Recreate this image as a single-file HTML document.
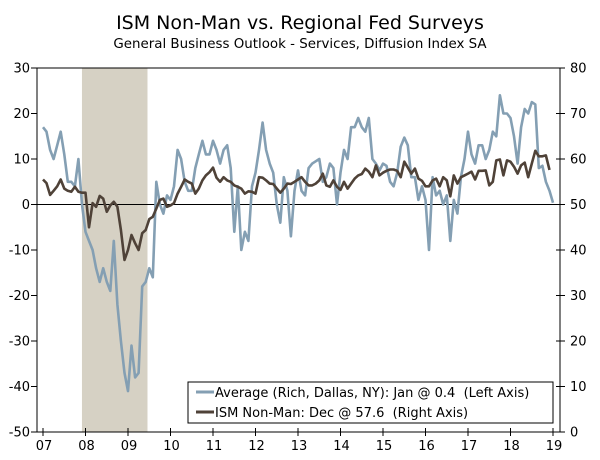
<!DOCTYPE html>
<html><head><meta charset="utf-8"><style>
body{margin:0;background:#fff;}
svg{display:block;font-family:"DejaVu Sans","Liberation Sans",sans-serif;}
</style></head><body>
<svg id="chart" width="600" height="460">
<text x="300" y="29" text-anchor="middle" font-size="19" fill="#000">ISM Non-Man vs. Regional Fed Surveys</text>
<text x="300" y="48" text-anchor="middle" font-size="13.4" fill="#000">General Business Outlook - Services, Diffusion Index SA</text>
<g id="plot"></g>
</svg>
<script>
const yearLabels=["07","08","09","10","11","12","13","14","15","16","17","18","19"];
const leftTicks=[30,20,10,0,-10,-20,-30,-40,-50];
const rightTicks=[80,70,60,50,40,30,20,10,0];
const recession=[11,29.5];
const avgValues=[17,16,12,10,13,16,11,5,5,4,10,0,
-6,-8,-10,-14,-17,-14,-17,-19,-8,-22,-30,-37,
-41,-31,-38,-37,-18,-17,-14,-16,5,0,-2,2,
1,4,12,10,5,3,3,8,11,14,11,11,
14,12,9,12,13,8,-6,4,-10,-6,-8,4,
7,12,18,12,9,7,0,-4,6,3,-7,3,
7.5,3,2,8,9,9.5,10,5,6,9,8,0,
7,12,10,17,17,19,17,16,19,10,9,7.5,
9,8.5,5,4,7,12.7,14.7,13,6,6,1,4,
1,-10,6,2,3,0,2,-8,1,-2,6,10,
16,11,9,13,13,10,12,16,15,24,20,20,
19,15,9,17,21,20,22.5,22,8,8.5,5,3,
0.4];
const ismValues=[55.5,54.7,52.1,53,54,55.5,53.5,53,52.8,53.9,52.8,52.6,
52.6,45,50.3,49.5,51.9,51.3,48.4,49.8,50.6,49.5,44.4,37.8,
40,43.3,41.5,40,43.7,44.4,46.8,47.3,49.1,51,51.3,49.5,
49.8,50.3,52.4,53.9,55.5,55,54.6,52.4,53.5,55.3,56.4,57.1,
58.1,55.9,55,56,55.3,55,54.2,53.9,53.5,52.4,52.9,52.8,
52.4,56,55.9,55.3,54.6,54.5,53.5,52.6,53.5,54.6,54.5,55,
55.5,56,55,54.2,54.2,54.6,55.3,56.8,54.2,53.9,55.3,53.9,
53.2,55,53.5,54.6,55.7,56.4,56.7,57.9,57.2,56,58.6,56.4,
57,57.4,57.7,57.7,57.4,56,59.4,58.1,56.8,57.9,55.7,55.2,
54,54,55.3,55.7,54,56,55.3,51.8,56.4,54.6,56,56.4,
56.8,57.2,55.5,57.4,57.4,57.5,54.2,55,59.7,59.9,56.4,59.7,
59.4,58.3,56.8,58.6,59.2,56,59,61.8,60.6,60.6,60.8,57.6];

const NS="http://www.w3.org/2000/svg";
const g=document.getElementById('plot');
const L=37,R=560,T=68,B=432;
function xm(m){return 43+m*42.5/12;}
function yl(v){return T+(30-v)*(B-T)/80;}
function yr(v){return T+(80-v)*(B-T)/80;}
function mk(tag,attrs,parent){const e=document.createElementNS(NS,tag);for(const k in attrs)e.setAttribute(k,attrs[k]);(parent||g).appendChild(e);return e;}

const sh=mk('rect',{x:xm(recession[0]),y:T,width:xm(recession[1])-xm(recession[0]),height:B-T,fill:'#d6d1c4'});



const frame=mk('rect',{x:L,y:T,width:R-L,height:B-T,fill:'none',stroke:'#000','stroke-width':1});



const zero=mk('line',{x1:L,x2:R,y1:yl(0),y2:yl(0),stroke:'#000','stroke-width':1});



leftTicks.forEach(v=>{
  const y=yl(v);
  mk('line',{x1:L-6,x2:L,y1:y,y2:y,stroke:'#000'});
  const t=mk('text',{x:L-7,y:y+4.5,'text-anchor':'end','font-size':13,fill:'#000'});
  t.textContent=v;
  
  
});
rightTicks.forEach(v=>{
  const y=yr(v);
  mk('line',{x1:R-4,x2:R+5,y1:y,y2:y,stroke:'#000'});
  const t=mk('text',{x:R+10,y:y+4.5,'text-anchor':'start','font-size':13,fill:'#000'});
  t.textContent=v;
  
  
});
yearLabels.forEach((lab,i)=>{
  const x=xm(i*12);
  mk('line',{x1:x,x2:x,y1:B-4,y2:B+4,stroke:'#000'});
  const t=mk('text',{x:x+1,y:B+18,'text-anchor':'middle','font-size':13,fill:'#000'});
  t.textContent=lab;
  
  
});

const avgLine=mk('polyline',{points:avgValues.map((v,i)=>xm(i).toFixed(1)+','+yl(v).toFixed(1)).join(' '),fill:'none',stroke:'#849fb3','stroke-width':2.6,'stroke-linejoin':'round'});


const ismLine=mk('polyline',{points:ismValues.map((v,i)=>xm(i).toFixed(1)+','+yr(v).toFixed(1)).join(' '),fill:'none',stroke:'#4f4238','stroke-width':2.6,'stroke-linejoin':'round'});



const lg=mk('g',{});


mk('rect',{x:188,y:382,width:365,height:41,fill:'#fff',stroke:'#000','stroke-width':1},lg);
mk('line',{x1:196,x2:214,y1:392,y2:392,stroke:'#849fb3','stroke-width':3},lg);
mk('line',{x1:196,x2:214,y1:412,y2:412,stroke:'#4f4238','stroke-width':3},lg);
const t1=mk('text',{x:215,y:397,'font-size':13,fill:'#000'},lg);
t1.textContent='Average (Rich, Dallas, NY): Jan @ 0.4  (Left Axis)';
t1.style.whiteSpace='pre';


const t2=mk('text',{x:215,y:417,'font-size':13,fill:'#000'},lg);
t2.textContent='ISM Non-Man: Dec @ 57.6  (Right Axis)';
t2.style.whiteSpace='pre';


</script>
</body></html>
